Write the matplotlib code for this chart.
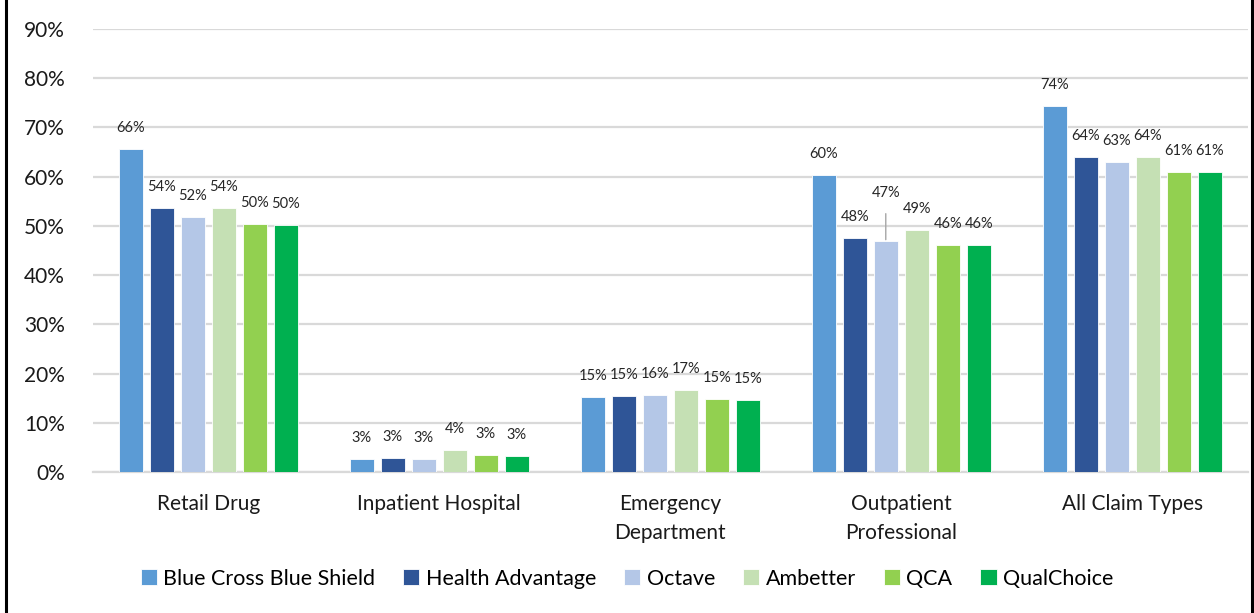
import numpy as np
import matplotlib.pyplot as plt
from matplotlib.lines import Line2D

plt.rcParams['font.family'] = ['Lato', 'DejaVu Sans']

CATEGORIES = ["Retail Drug", "Inpatient Hospital", "Emergency\nDepartment",
              "Outpatient\nProfessional", "All Claim Types"]
CARRIERS = ["Blue Cross Blue Shield", "Health Advantage", "Octave",
            "Ambetter", "QCA", "QualChoice"]

# share per carrier, one list per carrier across CATEGORIES
BCBS = [65.6, 2.6, 15.2, 60.3, 74.4]
HEALTH_ADV = [53.6, 2.8, 15.4, 47.5, 64.0]
OCTAVE = [51.8, 2.6, 15.6, 46.9, 63.0]
AMBETTER = [53.6, 4.4, 16.7, 49.2, 64.0]
QCA = [50.4, 3.4, 14.8, 46.1, 61.0]
QUALCHOICE = [50.2, 3.3, 14.6, 46.1, 61.0]

LABELS_BCBS = ["66%", "3%", "15%", "60%", "74%"]
LABELS_HA = ["54%", "3%", "15%", "48%", "64%"]
LABELS_OCT = ["52%", "3%", "16%", "47%", "63%"]
LABELS_AMB = ["54%", "4%", "17%", "49%", "64%"]
LABELS_QCA = ["50%", "3%", "15%", "46%", "61%"]
LABELS_QC = ["50%", "3%", "15%", "46%", "61%"]

COLORS = ["#5B9BD5", "#2F5597", "#B4C7E7", "#C5E0B4", "#92D050", "#00B050"]

series = [BCBS, HEALTH_ADV, OCTAVE, AMBETTER, QCA, QUALCHOICE]
labels = [LABELS_BCBS, LABELS_HA, LABELS_OCT, LABELS_AMB, LABELS_QCA, LABELS_QC]

fig = plt.figure(figsize=(12.54, 6.13), dpi=100)
ax = fig.add_axes([0.074, 0.23, 0.921, 0.723])

x = np.arange(len(CATEGORIES))
step = 0.134
width = 0.104
for i, (vals, labs, col) in enumerate(zip(series, labels, COLORS)):
    xs = x + (i - 2.5) * step
    ax.bar(xs, vals, width=width, color=col, edgecolor="white", linewidth=0.6,
           label=CARRIERS[i], zorder=3)
    for j, (xx, v, t) in enumerate(zip(xs, vals, labs)):
        if i == 2 and j == 3:
            # leader-line label (Octave, Outpatient)
            ax.annotate(t, (xx, v), xytext=(xx, v + 9.8), ha="center",
                        va="center", fontsize=10.5, color="#262626",
                        arrowprops=dict(arrowstyle="-", color="#A6A6A6", lw=1,
                                        shrinkA=8, shrinkB=1))
        else:
            ax.annotate(t, (xx, v), xytext=(0, 21), textcoords="offset pixels",
                        ha="center", va="center", fontsize=10.5, color="#262626")

ax.set_xlim(-0.5, len(CATEGORIES) - 0.5)
ax.set_ylim(0, 90)
ax.set_yticks(np.arange(0, 91, 10))
ax.set_yticklabels([f"{v}%" for v in range(0, 91, 10)])
ax.set_xticks(x)
ax.set_xticklabels(CATEGORIES, linespacing=1.55)
ax.tick_params(axis="y", length=0, labelsize=15, pad=20, labelcolor="#1a1a1a")
ax.tick_params(axis="x", length=0, labelsize=15, pad=16, labelcolor="#1a1a1a")
ax.yaxis.grid(True, color="#D9D9D9", lw=1.6, zorder=0)
ax.set_axisbelow(True)
for s in ["top", "left", "right"]:
    ax.spines[s].set_visible(False)
ax.spines["bottom"].set_color("#D9D9D9")
ax.spines["bottom"].set_linewidth(1.6)

ax.legend(loc="center", bbox_to_anchor=(0.5, 0.056), bbox_transform=fig.transFigure,
          ncol=6, frameon=False, fontsize=15.5, handlelength=0.75, handleheight=0.75,
          handletextpad=0.3, columnspacing=1.3)

# chart frame edges
fig.add_artist(Line2D([0.0045, 0.0045], [0, 1], color="black", lw=2.2,
                      transform=fig.transFigure))
fig.add_artist(Line2D([0.9985, 0.9985], [0, 1], color="black", lw=2.2,
                      transform=fig.transFigure))

fig.savefig("out.png", dpi=100)
